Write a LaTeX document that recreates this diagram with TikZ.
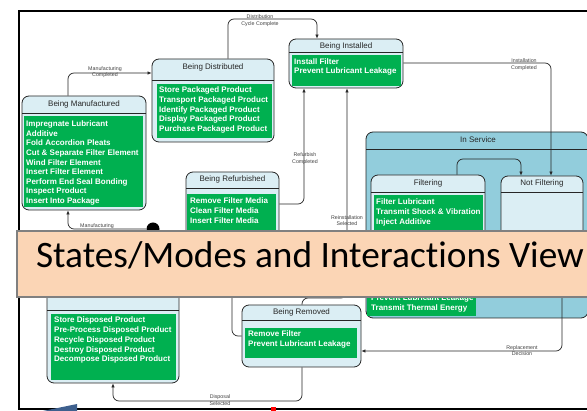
\documentclass[tikz,border=0pt]{standalone}
\usepackage{fontspec}
\setmainfont{Liberation Sans}
\newfontfamily\bannerfont[Ligatures={NoCommon,NoRare}]{Carlito}
\usetikzlibrary{fit,arrows.meta}
\definecolor{hdr}{HTML}{DBEEF4}
\definecolor{svc}{HTML}{92CDDC}
\definecolor{grn}{HTML}{00B050}
\definecolor{peach}{HTML}{FBD5B5}
\begin{document}
\begin{tikzpicture}[x=1pt,y=-1pt,
  stbox/.style={draw=black!85, line width=0.8pt, rounded corners=7pt, fill=hdr, inner sep=0pt},
  svcbox/.style={stbox, fill=svc},
  body/.style={fill=grn, draw=none, inner sep=0pt},
  hline/.style={draw=black!85, line width=0.8pt},
  ttl/.style={font=\fontsize{8}{9}\selectfont, text=black!85, inner sep=0pt},
  items/.style={font=\bfseries\fontsize{8}{#1}\selectfont, text=white, align=left, inner sep=0pt, anchor=north west},
  items/.default={9.8},
  conn/.style={draw=black!85, line width=0.7pt, rounded corners=6pt, -{Latex[length=4pt,width=3.5pt]}},
  lbl/.style={font=\fontsize{5.3}{6.6}\selectfont, text=black!75, align=center, inner sep=0pt}]
\useasboundingbox (0,0) rectangle (587,411);
% frame
\draw[line width=2pt, black] (590,11) -- (19,11) -- (19,409) -- (590,409);

% Being Manufactured
\node[stbox, fit={(22,96) (146,210)}] (bm) {};
\draw[hline] (22,113) -- (146,113);
\node[ttl] (bmt) at (84,104.5) {Being Manufactured};
\node[body, fit={(24,116) (143,207)}] (bmb) {};
\node[items=9.6] (bmi) at (26,120.7) {Impregnate Lubricant\\Additive\\Fold Accordion Pleats\\Cut \& Separate Filter Element\\Wind Filter Element\\Insert Filter Element\\Perform End Seal Bonding\\Inspect Product\\Insert Into Package};

% Being Distributed
\node[stbox, fit={(152,59) (274,142)}] (bd) {};
\draw[hline] (152,80) -- (274,80);
\node[ttl] (bdt) at (213,67) {Being Distributed};
\node[body, fit={(157,84) (272,138)}] (bdb) {};
\node[items=9.75] (bdi) at (159,86.7) {Store Packaged Product\\Transport Packaged Product\\Identify Packaged Product\\Display Packaged Product\\Purchase Packaged Product};

% Being Installed
\node[stbox, fit={(289,39) (403,88)}] (bi) {};
\draw[hline] (289,52) -- (403,52);
\node[ttl] (bit) at (346,46) {Being Installed};
\node[body, fit={(292,55) (401,86)}] (bib) {};
\node[items=9] (bii) at (294,58.7) {Install Filter\\Prevent Lubricant Leakage};

% Being Refurbished
\node[stbox, fit={(186,172) (279,262)}] (brf) {};
\draw[hline] (186,188) -- (279,188);
\node[ttl] (brft) at (232.5,179) {Being Refurbished};
\node[body, fit={(187,194) (276,255)}] (brfb) {};
\node[items=10] (brfi) at (190,197.7) {Remove Filter Media\\Clean Filter Media\\Insert Filter Media};

% In Service
\node[svcbox, fit={(366,132) (588,318)}] (is) {};
\draw[hline] (366,149) -- (588,149);
\node[ttl] (ist) at (478,140) {In Service};

% Filtering
\node[stbox, fit={(371,175) (485,262)}] (filt) {};
\draw[hline] (371,192) -- (485,192);
\node[ttl] (filtt) at (428,183) {Filtering};
\node[body, fit={(374,195) (483,255)}] (filtb) {};
\node[items=10] (filti) at (376,198.7) {Filter Lubricant\\Transmit Shock \& Vibration\\Inject Additive};
\node[body, fit={(367,285) (476,316)}] (filtb2) {};
\node[items=10] (filti2) at (371,294.7) {Prevent Lubricant Leakage\\Transmit Thermal Energy};

% Not Filtering
\node[stbox, fit={(501,176) (583,262)}] (nf) {};
\draw[hline] (501,192) -- (583,192);
\node[ttl] (nft) at (542,183) {Not Filtering};

% Being Removed
\node[stbox, fit={(242,305) (361,367)}] (br) {};
\draw[hline] (242,320) -- (361,320);
\node[ttl] (brt) at (301.5,312) {Being Removed};
\node[body, fit={(245,328) (357,358)}] (brb) {};
\node[items=10] (bri) at (248,330.7) {Remove Filter\\Prevent Lubricant Leakage};

% Being Disposed
\node[stbox, fit={(47,270) (179,383)}] (bdp) {};
\draw[hline] (47,310) -- (179,310);
\node[ttl] (bdpt) at (113,289) {Being Disposed};
\node[body, fit={(51,314) (176,380)}] (bdpb) {};
\node[items=9.8] (bdpi) at (54,316.7) {Store Disposed Product\\Pre-Process Disposed Product\\Recycle Disposed Product\\Destroy Disposed Product\\Decompose Disposed Product};

% initial
\node[circle, fill=black, minimum size=13pt, inner sep=0pt] (init) at (153,229) {};

% waypoints
\coordinate (c1) at (68,229);
\coordinate (c2) at (68,73);
\coordinate (c3) at (228,19);
\coordinate (c3b) at (317,19);
\coordinate (c4) at (551,63);
\coordinate (c5) at (457,159);
\coordinate (c5b) at (521,159);
\coordinate (c6) at (304,204);
\coordinate (c7) at (302,298);
\coordinate (c7b) at (347,298);
\coordinate (c8) at (232,336);
\coordinate (c9) at (562,351);
\coordinate (c10) at (302,401);
\coordinate (c10b) at (113,401);

\draw[conn] (init.west) -- (c1) -- (c1 |- bm.south);
\draw[conn] (c2 |- bm.north) -- (c2) -- (c2 -| bd.west);
\draw[conn] (c3 |- bd.north) -- (c3) -- (c3b) -- (c3b |- bi.north);
\draw[conn] (bi.east |- c4) -- (c4) -- (c4 |- nf.north);
\draw[conn] (c5 |- filt.north) -- (c5) -- (c5b) -- (c5b |- nf.north);
\draw[conn] (brf.east |- c6) -- (c6) -- (c6 |- bi.south);
\draw[conn] (c7 |- br.north) -- (c7) -- (c7b) -- (c7b |- bi.south);
\draw[conn] (br.west |- c8) -- (c8) -- (c8 |- brf.south);
\draw[conn] (c9 |- nf.south) -- (c9) -- (c9 -| br.east);
\draw[conn] (c10 |- br.south) -- (c10) -- (c10b) -- (c10b |- bdp.south);

% labels
\node[lbl] (l1) at (97,226) {Manufacturing};
\node[lbl] (l2) at (105,72) {Manufacturing\\Completed};
\node[lbl] (l3) at (260,20.5) {Distribution\\Cycle Complete};
\node[lbl] (l4) at (524,64.5) {Installation\\Completed};
\node[lbl] (l6) at (305,158.5) {Refurbish\\Completed};
\node[lbl] (l7) at (347,220.5) {Reinstallation\\Selected};
\node[lbl] (l8) at (232,292.5) {Refurbish\\Selected};
\node[lbl] (l9) at (522,350.5) {Replacement\\Decision};
\node[lbl] (l10) at (220,400) {Disposal\\Selected};

% banner
\draw[fill=peach, draw=black!50, line width=1.5pt] (17,231) rectangle (596,297);
\node[font=\bannerfont\fontsize{37.3}{42}\selectfont, inner sep=0pt, anchor=base] (ban) at (310,268) {States/Modes and Interactions View};

% artefacts
\fill[red] (271,407.5) rectangle (276,411);
\fill[fill={rgb,255:red,62;green,96;blue,142}] (43,411) -- (77,404) -- (77,411) -- cycle;
\end{tikzpicture}
\end{document}
